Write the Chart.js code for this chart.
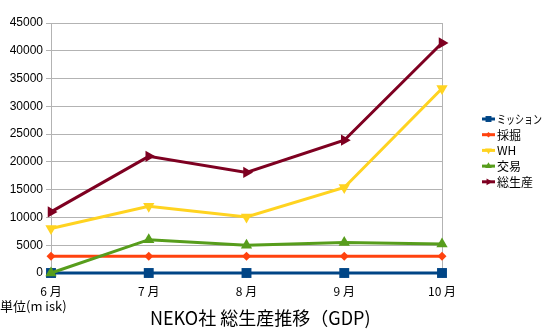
<!DOCTYPE html>
<html><head><meta charset="utf-8">
<script src="https://cdn.jsdelivr.net/npm/chart.js@4"></script>
<style>html,body{margin:0;padding:0;background:#fff;}#wrap{width:548px;height:334px;position:relative;}</style>
</head><body><div id="wrap"><canvas id="c" width="548" height="334"></canvas></div>
<script>
const categories = ["6 月", "7 月", "8 月", "9 月", "10 月"];
const seriesNames = ["ミッション", "採掘", "WH", "交易", "総生産"];
const mission = [0, 0, 0, 0, 0];
const mining = [3000, 3000, 3000, 3000, 3000];
const wh = [8000, 12000, 10100, 15400, 33200];
const trade = [0, 6000, 5000, 5500, 5200];
const total = [11000, 21000, 18100, 23900, 41400];
const yTicks = [0, 5000, 10000, 15000, 20000, 25000, 30000, 35000, 40000, 45000];
const titleText = "NEKO社 総生産推移（GDP)";
const unitText = "単位(m isk)";

const colors = ["#004586", "#ff420e", "#ffd320", "#579d1c", "#7e0021"];
const styles = [
  {pointStyle: "rect", rotation: 0, radius: 7},
  {pointStyle: "rectRot", rotation: 0, radius: 4.5},
  {pointStyle: "triangle", rotation: 180, radius: 6.5},
  {pointStyle: "triangle", rotation: 0, radius: 6.5},
  {pointStyle: "triangle", rotation: 90, radius: 6.5}
];
const values = [mission, mining, wh, trade, total];
const FONT = "'Liberation Sans', 'Noto Sans CJK JP', sans-serif";
const CJK = "'Noto Sans CJK JP', 'Liberation Sans', sans-serif";

const datasets = values.map((v, i) => ({
  label: seriesNames[i],
  data: v,
  borderColor: colors[i],
  backgroundColor: colors[i],
  borderWidth: 3,
  pointStyle: styles[i].pointStyle,
  pointRotation: styles[i].rotation,
  pointRadius: styles[i].radius,
  pointHoverRadius: styles[i].radius,
  pointBorderWidth: 0,
  tension: 0,
  clip: false,
  order: 5 - i
}));

const extras = {
  id: "extras",
  afterDraw(chart) {
    const ctx = chart.ctx;
    ctx.save();
    const lx = 482, ly0 = 119, step = 15.7;
    datasets.forEach((ds, i) => {
      const y = ly0 + i * step;
      ctx.strokeStyle = ds.borderColor;
      ctx.lineWidth = 3;
      ctx.beginPath(); ctx.moveTo(lx, y); ctx.lineTo(lx + 13, y); ctx.stroke();
      ctx.fillStyle = ds.borderColor;
      Chart.helpers.drawPoint(ctx, {pointStyle: ds.pointStyle, rotation: ds.pointRotation, radius: ds.pointRadius * 0.6, borderWidth: 0}, lx + 6.5, y);
      ctx.fillStyle = "#000";
      ctx.font = "12px " + CJK;
      ctx.textAlign = "left"; ctx.textBaseline = "middle";
      ctx.fillText(ds.label, lx + 15, y + 0.5, 45);
    });
    ctx.font = "13px " + CJK;
    ctx.textAlign = "left"; ctx.textBaseline = "middle";
    ctx.fillText(unitText, 0, 306, 68);
    ctx.font = "18px " + CJK;
    ctx.fillText(titleText, 150, 318, 223);
    ctx.restore();
  }
};

new Chart(document.getElementById("c"), {
  type: "line",
  data: { labels: categories, datasets },
  options: {
    responsive: false,
    animation: false,
    devicePixelRatio: 1,
    layout: { padding: { left: 0, right: 106, top: 23, bottom: 0 } },
    plugins: { legend: { display: false }, tooltip: { enabled: false }, title: { display: false } },
    scales: {
      x: {
        offset: false,
        afterFit(s) { s.height = 61; },
        grid: {
          color: (c) => (c.index === categories.length - 1 ? "#b3b3b3" : "rgba(0,0,0,0)"),
          tickColor: "#b3b3b3",
          tickLength: 5,
          lineWidth: 1
        },
        border: { display: false },
        ticks: { color: "#000", font: { size: 12, family: CJK }, padding: 6, maxRotation: 0, autoSkip: false }
      },
      y: {
        min: 0, max: 45000,
        afterFit(s) { s.width = 51; },
        afterBuildTicks(s) { s.ticks = yTicks.map(v => ({ value: v })); },
        grid: { color: "#b3b3b3", tickColor: "#b3b3b3", tickLength: 5, lineWidth: 1 },
        border: { display: true, color: "#b3b3b3" },
        ticks: { color: "#000", font: { size: 12, family: FONT }, padding: 3, callback: (v) => String(v) }
      }
    }
  },
  plugins: [extras]
});
</script></body></html>
